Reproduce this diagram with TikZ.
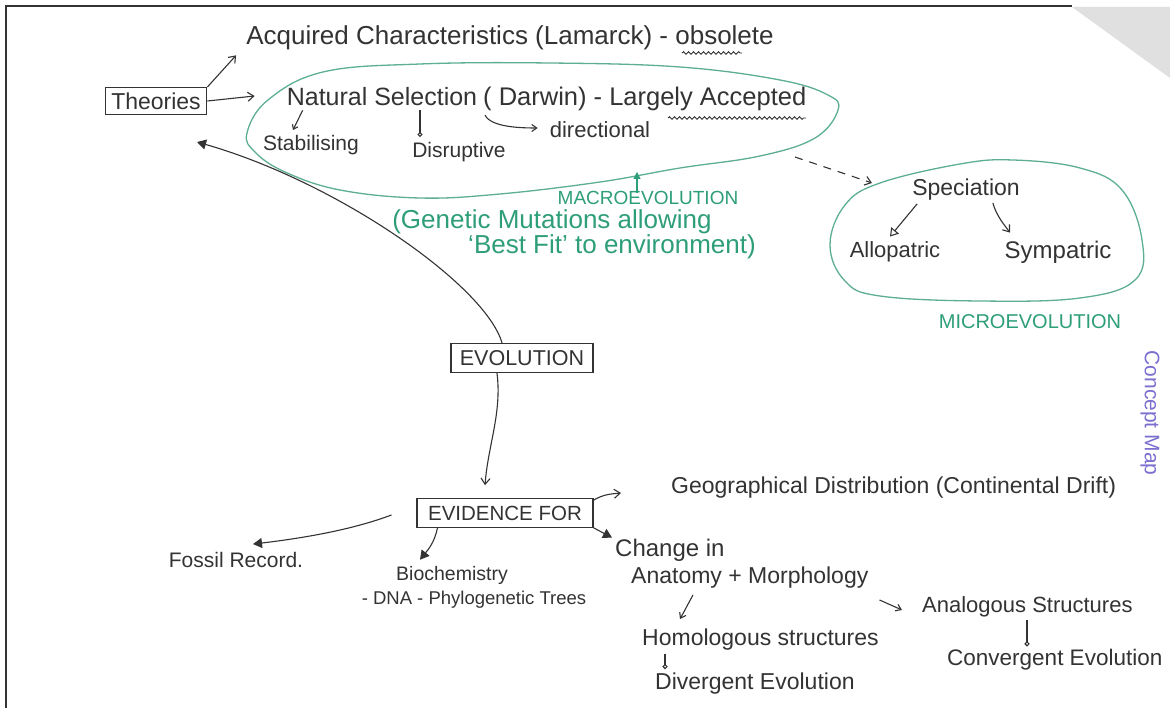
\documentclass[tikz,border=0pt]{standalone}
\usepackage{fontspec}
\setmainfont{Liberation Sans}
\usetikzlibrary{arrows.meta,decorations.pathmorphing,calc}
\definecolor{ink}{HTML}{333333}
\definecolor{loopgreen}{HTML}{5DAE95}
\definecolor{txtgreen}{HTML}{2E9E7A}
\definecolor{mapviolet}{HTML}{7B6FD0}
\begin{document}
\begin{tikzpicture}[x=1pt,y=-1pt,
  fs/.style={font=\fontsize{#1}{#1}\selectfont},
  lbl/.style={inner sep=0pt, text=ink},
  gtxt/.style={inner sep=0pt, text=txtgreen},
  box/.style={draw=ink, line width=1.3pt, inner xsep=6pt, inner ysep=5pt, text=ink, text depth=0pt},
  conn/.style={draw=ink, line width=1.1pt},
  barb/.style={conn, -{Straight Barb[length=6pt,width=9pt,line width=1.1pt]}},
  tri/.style={conn, -{Triangle[length=9pt,width=10pt]}},
  otri/.style={conn, -{Triangle[open,length=8pt,width=10pt]}},
  loopb/.style={conn, -{Circle[open,length=5pt,width=5pt]}},
  loopline/.style={draw=loopgreen, line width=1.3pt},
  wavy/.style={draw=ink, line width=0.9pt, decorate, decoration={snake, amplitude=1.3pt, segment length=5pt}}
]
\useasboundingbox (0,0) rectangle (1170,708);
\fill[white] (0,0) rectangle (1170,708);
% page frame and page curl
\fill[black!12] (1072,7) -- (1170,7) -- (1170,78) -- cycle;
\draw[ink, line width=1.4pt] (6,708) -- (6,6) -- (1072,6);

% green loops
\draw[loopline] plot[smooth cycle, tension=0.65] coordinates {
  (247,133) (268,100) (323,72) (420,64) (550,63) (680,67) (780,80) (828,95)
  (838,110) (815,138) (760,156) (680,168) (600,182) (500,194) (420,198)
  (340,190) (285,172) (255,152)};
\draw[loopline] plot[smooth cycle, tension=0.65] coordinates {
  (830,245) (845,205) (880,183) (960,164) (1013,160) (1080,168) (1122,190)
  (1142,240) (1135,280) (1080,298) (980,301) (880,296) (845,281)};
\coordinate (bigS) at (637,172);
\coordinate (bigSE) at (795,157);
\coordinate (specNW) at (872,183);
\coordinate (theotip) at (197,142);

% top theories
\node[box, fs=23] (theo) at (156,101) {Theories};
\node[lbl, fs=26] (acq) at (510,38) {Acquired Characteristics (Lamarck) - obsolete};
\node[lbl, fs=25] (ns) at (382,97) {Natural Selection};
\node[lbl, fs=25.5, anchor=west] (dar) at (483,99) {( Darwin) - Largely Accepted};
\node[lbl, fs=21] (stab) at (311,145) {Stabilising};
\node[lbl, fs=21] (disr) at (459,152) {Disruptive};
\node[lbl, fs=22] (dirn) at (600,130) {directional};
\draw[wavy] (682,53) -- (742,53);
\draw[wavy] (668,118) -- (806,118);

\node[gtxt, fs=19] (macro) at (648,198) {MACROEVOLUTION};
\node[gtxt, fs=26] (gen1) at (552,222) {(Genetic Mutations allowing};
\node[gtxt, fs=26] (gen2) at (612,247) {`Best Fit' to environment)};

% speciation
\node[lbl, fs=23] (spec) at (966,190) {Speciation};
\node[lbl, fs=22] (allo) at (895,252) {Allopatric};
\node[lbl, fs=24] (symp) at (1058,252) {Sympatric};
\node[gtxt, fs=20] (micro) at (1030,322) {MICROEVOLUTION};
\node[rotate=-90, fs=21, text=mapviolet, inner sep=0pt] (cmap) at (1150,413) {Concept Map};

% evolution
\node[box, fs=21.5, inner xsep=9pt, inner ysep=7pt] (evo) at (522,358) {EVOLUTION};
\node[box, fs=20.5, inner xsep=11pt, inner ysep=7pt] (evid) at (505,513) {EVIDENCE FOR};

\node[lbl, fs=23, anchor=west] (geo) at (671,488) {Geographical Distribution (Continental Drift)};
\node[lbl, fs=21] (fossil) at (236,560) {Fossil Record.};
\node[lbl, fs=19.5] (bio) at (452,575) {Biochemistry};
\node[lbl, fs=18.5] (dna) at (474,600) {- DNA - Phylogenetic Trees};
\node[lbl, fs=24, anchor=west] (chg) at (615,550) {Change in};
\node[lbl, fs=23, anchor=west] (anat) at (631,578) {Anatomy + Morphology};
\node[lbl, fs=23, anchor=west] (homo) at (642,640) {Homologous structures};
\node[lbl, fs=23, anchor=west] (div) at (655,684) {Divergent Evolution};
\node[lbl, fs=22, anchor=west] (ana) at (922,607) {Analogous Structures};
\node[lbl, fs=22.5, anchor=west] (conv) at (947,660) {Convergent Evolution};

% connectors
\draw[barb] (theo.north east) -- ($(acq.south west)+(-10,5)$);
\draw[barb] (theo.east) -- ($(ns.west)+(-32,-1)$);
\draw[barb, -{Straight Barb[length=4pt,width=6pt]}] ($(ns.south west)+(16,4)$) -- ($(stab.north)+(-18,-5)$);
\draw[loopb] ($(ns.south)+(38,4)$) -- ($(disr.north)+(-39,-5)$);
\draw[barb, -{Straight Barb[length=5pt,width=7pt]}] ($(dar.south west)+(2,4)$) .. controls +(6,12) and +(-18,0) .. ($(dirn.west)+(-12,-2)$);
\draw[draw=txtgreen, line width=1.1pt, -{Triangle[length=7pt,width=7pt]}] ($(macro.north)+(-11,2)$) -- (bigS);
\draw[barb, dash pattern=on 8pt off 7pt] (bigSE) -- (specNW);
\draw[otri] ($(spec.south west)+(5,3)$) -- ($(allo.north)+(-5,-5)$);
\draw[barb] ($(spec.south east)+(-27,2)$) .. controls +(3,12) and +(-6,-8) .. ($(symp.north)+(-48,-8)$);

\draw[tri] ($(evo.north)+(-20,0)$) .. controls +(-17,-58) and +(140,40) .. (theotip);
\draw[barb] ($(evo.south)+(-25,0)$) .. controls +(5,40) and +(3,-40) .. ($(evid.north)+(-20,-13)$);
\draw[tri] ($(evid.west)+(-25,2)$) .. controls +(-40,15) and +(50,-6) .. ($(fossil.north)+(17,-8)$);
\draw[tri] ($(evid.south west)+(21,0)$) .. controls +(-3,15) and +(8,-10) .. ($(bio.north)+(-32,-6)$);
\draw[barb] ($(evid.north east)+(0,2)$) .. controls +(10,-6) and +(-10,1) .. ($(geo.west)+(-50,5)$);
\draw[tri] (evid.south east) -- ($(chg.north west)+(-3,-1)$);
\draw[barb, -{Straight Barb[length=5pt,width=7pt]}] ($(anat.south west)+(62,6)$) -- ($(homo.north west)+(38,-10)$);
\draw[barb, -{Straight Barb[length=5pt,width=7pt]}] ($(anat.east)+(11,22)$) -- ($(ana.west)+(-20,3)$);
\draw[loopb] ($(homo.south west)+(23,3)$) -- ($(div.north west)+(10,-4)$);
\draw[loopb] ($(ana.south west)+(105,3)$) -- ($(conv.north west)+(80,-3)$);
\end{tikzpicture}
\end{document}
